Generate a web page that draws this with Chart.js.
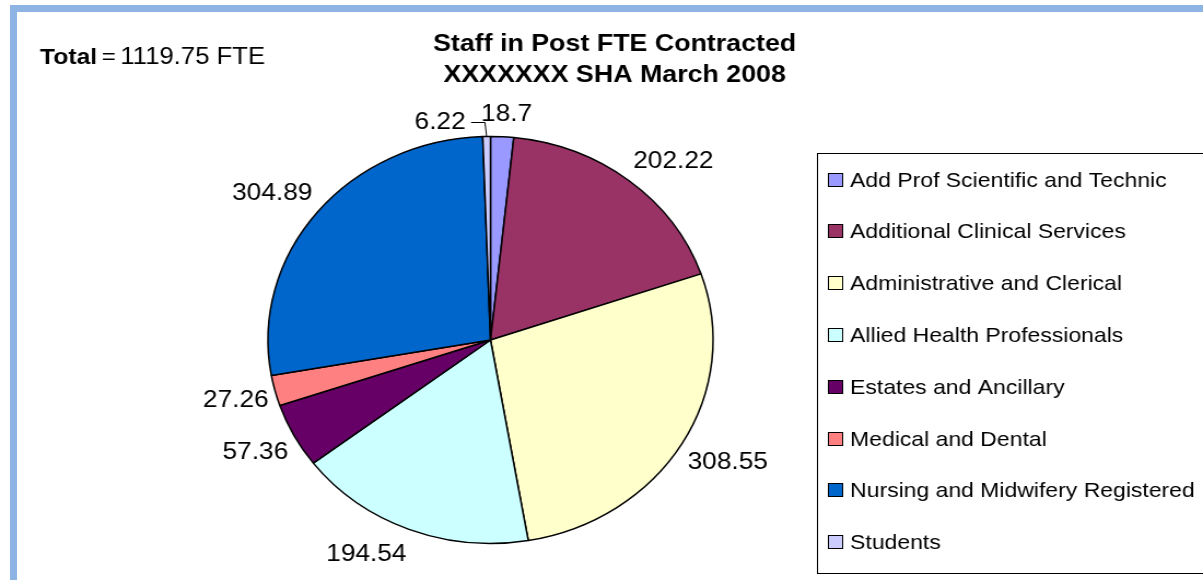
<!DOCTYPE html>
<html>
<head>
<meta charset="utf-8">
<script src="https://cdn.jsdelivr.net/npm/chart.js@4.4.0/dist/chart.umd.min.js"></script>
<style>
  html, body { margin: 0; padding: 0; background: #fff; overflow: hidden; }
  #wrap { position: absolute; left: 0; top: 0; width: 1100px; height: 580px; transform: scaleX(1.09364); transform-origin: 0 0; }
  .bar { position: absolute; background: #8db4e3; z-index: 5; }
  #bl { left: 10px; top: 5px; width: 7px; height: 575px; }
  #bt { left: 10px; top: 5px; width: 1193px; height: 7px; }
</style>
</head>
<body>
<div id="wrap"><canvas id="c" width="1100" height="580"></canvas></div>
<div class="bar" id="bl"></div>
<div class="bar" id="bt"></div>
<script>
const categories = [
  'Add Prof Scientific and Technic',
  'Additional Clinical Services',
  'Administrative and Clerical',
  'Allied Health Professionals',
  'Estates and Ancillary',
  'Medical and Dental',
  'Nursing and Midwifery Registered',
  'Students'
];
const fteValues = [18.7, 202.22, 308.55, 194.54, 57.36, 27.26, 304.89, 6.22];
const sliceColors = ['#9999ff', '#993366', '#ffffcc', '#ccffff', '#660066', '#ff8080', '#0066cc', '#ccccff'];
const titleLines = ['Staff in Post FTE Contracted', 'XXXXXXX SHA March 2008'];
const totalLabel = 'Total';
const totalEq = '=';
const totalText = '1119.75 FTE';

const FONT = '"Liberation Sans", Arial, Helvetica, sans-serif';
const clamp = v => Math.max(-1, Math.min(1, v));

const overlayPlugin = {
  id: 'overlay',
  afterDraw(chart) {
    const ctx = chart.ctx;
    ctx.save();
    ctx.fillStyle = '#000';
    ctx.textBaseline = 'alphabetic';

    // Title
    ctx.font = 'bold 24.5px ' + FONT;
    ctx.textAlign = 'center';
    ctx.fillText(titleLines[0], 562, 51);
    ctx.fillText(titleLines[1], 562, 82);

    // Total
    ctx.textAlign = 'left';
    ctx.font = 'bold 22.5px ' + FONT;
    ctx.fillText(totalLabel, 36.6, 64);
    ctx.font = '22px ' + FONT;
    ctx.fillText(totalEq, 93, 64);
    ctx.font = '23.5px ' + FONT;
    ctx.fillText(totalText, 110, 64);

    // Data labels
    const meta = chart.getDatasetMeta(0);
    ctx.font = '24px ' + FONT;
    ctx.textAlign = 'center';
    const placed = [];
    const hh = 14, capHalf = 8.6;
    meta.data.forEach((arc, i) => {
      const p = arc.getProps(['x', 'y', 'startAngle', 'endAngle', 'outerRadius'], true);
      const mid = (p.startAngle + p.endAngle) / 2;
      const dx = Math.cos(mid), dy = Math.sin(mid);
      const px = p.x + dx * p.outerRadius, py = p.y + dy * p.outerRadius;
      const txt = String(fteValues[i]);
      const w = ctx.measureText(txt).width, hw = w / 2;
      let cx = px + dx * 6 + hw * clamp(dx * 3);
      let cy = py + dy * 10 + hh * clamp(dy * 1.6);
      let leader = false;
      for (const b of placed) {
        if (cx - hw < b.r && cx + hw > b.l && cy - hh < b.b && cy + hh > b.t) {
          if (dx <= 0) { cx = b.l - 14 - hw; } else { cx = b.r + 14 + hw; }
          cy = py - 16;
          leader = true;
        }
      }
      placed.push({ l: cx - hw, r: cx + hw, t: cy - hh, b: cy + hh });
      ctx.fillText(txt, cx, cy + capHalf);
      if (leader) {
        ctx.beginPath();
        ctx.strokeStyle = '#000';
        ctx.lineWidth = 1;
        const sx = dx <= 0 ? cx + hw + 5 : cx - hw - 5;
        ctx.moveTo(sx, Math.round(cy) + 1.5);
        ctx.lineTo(px - 1.5, Math.round(cy) + 1.5);
        ctx.lineTo(px, py);
        ctx.stroke();
      }
    });

    // Legend
    const lx = 747, ly = 153, lb = 573;
    ctx.strokeStyle = '#000';
    ctx.lineWidth = 1;
    ctx.strokeRect(lx + 0.5, ly + 0.5, 1100 - lx + 5, lb - ly);
    ctx.font = '21px ' + FONT;
    ctx.textAlign = 'left';
    categories.forEach((name, i) => {
      const yc = 179 + i * 51.8;
      ctx.fillStyle = sliceColors[i];
      ctx.fillRect(757.5, Math.round(yc - 6.5) + 0.5, 13, 13);
      ctx.strokeRect(757.5, Math.round(yc - 6.5) + 0.5, 13, 13);
      ctx.fillStyle = '#000';
      ctx.fillText(name, 777.3, yc + 7.5);
    });
    ctx.restore();
  }
};

new Chart(document.getElementById('c'), {
  type: 'pie',
  data: {
    labels: categories,
    datasets: [{
      data: fteValues,
      backgroundColor: sliceColors,
      borderColor: '#000',
      borderWidth: 1.5,
      radius: 203.5
    }]
  },
  options: {
    responsive: false,
    animation: false,
    layout: { padding: { left: 0, right: 203, top: 100, bottom: 0 } },
    plugins: {
      legend: { display: false },
      tooltip: { enabled: false },
      title: { display: false }
    }
  },
  plugins: [overlayPlugin]
});
</script>
</body>
</html>
